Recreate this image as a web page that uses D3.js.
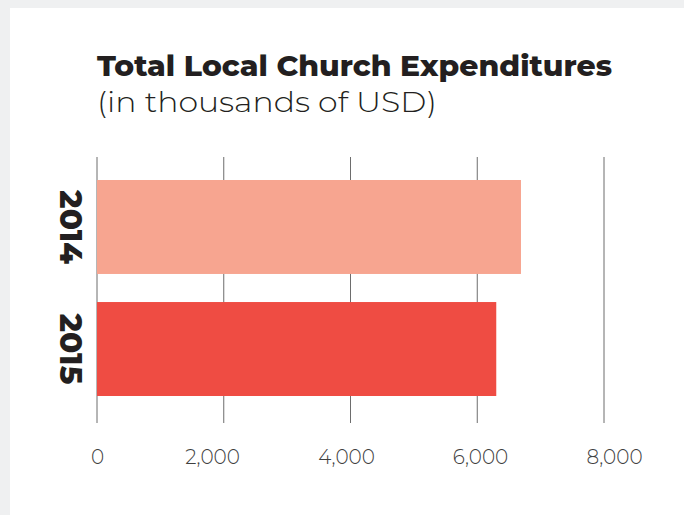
<!DOCTYPE html>
<html>
<head>
<meta charset="utf-8">
<script src="https://cdn.jsdelivr.net/npm/d3@7"></script>
<style>
  body { margin: 0; background: #eff0f1; }
  svg { display: block; }
</style>
</head>
<body>
<figure id="chart" style="margin:0"></figure>
<script>
// the data
const years = ["2014", "2015"];
const expenditures = [6690, 6300];
const barColors = ["#f7a590", "#ef4c43"];
const tickValues = [0, 2000, 4000, 6000, 8000];

let dimensions = {
    width: 684,
    height: 515,
    margin: { top: 180, right: 80, bottom: 119, left: 97 }
};
dimensions.boundedWidth = 604 - dimensions.margin.left;
dimensions.boundedHeight = 396 - dimensions.margin.top;

const svg = d3.select("figure#chart")
    .append("svg")
    .attr("width", dimensions.width)
    .attr("height", dimensions.height);

// white card on the grey page
svg.append("rect")
    .attr("x", 10).attr("y", 8)
    .attr("width", dimensions.width).attr("height", dimensions.height)
    .attr("fill", "#ffffff");

// titles
const title = svg.append("text")
    .attr("x", 97).attr("y", 76)
    .attr("font-family", "Montserrat, 'Open Sans', sans-serif")
    .attr("font-weight", 800)
    .attr("font-size", 29)
    .attr("fill", "#231f20")
    .text("Total Local Church Expenditures");
// stretch to the reference width
title.attr("textLength", 515).attr("lengthAdjust", "spacingAndGlyphs");

svg.append("text")
    .attr("x", 97).attr("y", 112)
    .attr("font-family", "Montserrat, Lato, sans-serif")
    .attr("font-weight", 300)
    .attr("font-size", 29)
    .attr("fill", "#231f20")
    .attr("textLength", 340)
    .attr("lengthAdjust", "spacingAndGlyphs")
    .text("(in thousands of USD)");

const g = svg.append("g")
    .attr("transform", `translate(${dimensions.margin.left},${dimensions.margin.top})`);

const xScale = d3.scaleLinear()
    .domain([0, 8000])
    .range([0, dimensions.boundedWidth]);

// the labels in the original sit a little off the gridlines, spread wider
const labelScale = d3.scaleLinear()
    .domain([0, 2000, 8000])
    .range([0, 115, 517]);

const yScale = d3.scaleBand()
    .domain(years)
    .range([0, dimensions.boundedHeight])
    .paddingInner(0.23)
    .paddingOuter(0);

// gridlines behind the bars
g.selectAll("line.grid")
    .data(tickValues)
    .enter()
    .append("line")
    .attr("class", "grid")
    .attr("x1", d => xScale(d)).attr("x2", d => xScale(d))
    .attr("y1", -23).attr("y2", 243)
    .attr("stroke", "#6d6d6d")
    .attr("stroke-width", 1);

g.selectAll("rect.bar")
    .data(years)
    .enter()
    .append("rect")
    .attr("class", "bar")
    .attr("x", 0)
    .attr("y", d => yScale(d))
    .attr("width", (d, i) => xScale(expenditures[i]))
    .attr("height", yScale.bandwidth())
    .attr("fill", (d, i) => barColors[i]);

// x axis labels
const xAxis = g.append("g")
    .attr("transform", `translate(0, ${dimensions.boundedHeight})`)
    .call(d3.axisBottom(labelScale)
        .tickValues(tickValues)
        .tickFormat(d3.format(","))
        .tickSize(0)
        .tickPadding(54));
xAxis.select(".domain").remove();
xAxis.selectAll("text")
    .attr("font-family", "Montserrat, Lato, sans-serif")
    .attr("font-weight", 300)
    .attr("font-size", 20)
    .attr("fill", "#3f3f3f");

// year labels, rotated
g.selectAll("text.year")
    .data(years)
    .enter()
    .append("text")
    .attr("class", "year")
    .attr("transform", d => `translate(-37, ${yScale(d) + yScale.bandwidth() / 2}) rotate(90)`)
    .attr("text-anchor", "middle")
    .attr("font-family", "Montserrat, 'Open Sans', sans-serif")
    .attr("font-weight", 800)
    .attr("font-size", 31)
    .attr("fill", "#231f20")
    .text(d => d);
</script>
</body>
</html>
